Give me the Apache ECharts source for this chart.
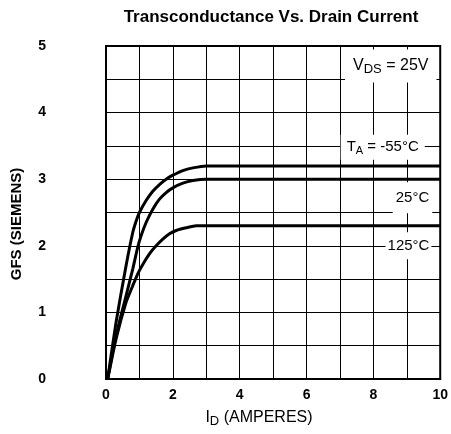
<!DOCTYPE html>
<html>
<head>
<meta charset="utf-8">
<script src="https://cdn.jsdelivr.net/npm/echarts@6/dist/echarts.min.js"></script>
<style>
html, body { margin: 0; padding: 0; background: #fff; }
#chart { width: 451px; height: 434px; }
</style>
</head>
<body>
<div id="chart"></div>
<script>
// values: [ID (A), GFS (S)]
var curveMinus55 = [[0.05, 0], [0.3, 0.85], [0.6, 1.7], [0.8, 2.2], [0.9, 2.37], [1.0, 2.5], [1.2, 2.68], [1.4, 2.82], [1.6, 2.92], [1.8, 3.0], [2.0, 3.06], [2.3, 3.13], [2.6, 3.17], [3.0, 3.2], [3.5, 3.2], [10, 3.2]];
var curve25 = [[0.05, 0], [0.3, 0.65], [0.6, 1.25], [0.8, 1.65], [0.95, 1.98], [1.05, 2.15], [1.2, 2.35], [1.4, 2.55], [1.6, 2.7], [1.8, 2.8], [2.0, 2.87], [2.3, 2.94], [2.6, 2.98], [3.0, 3.0], [3.5, 3.0], [10, 3.0]];
var curve125 = [[0.05, 0], [0.3, 0.6], [0.6, 1.15], [0.8, 1.4], [0.95, 1.58], [1.1, 1.72], [1.3, 1.88], [1.5, 2.0], [1.7, 2.1], [1.9, 2.18], [2.1, 2.23], [2.4, 2.27], [2.7, 2.3], [3.0, 2.3], [3.5, 2.3], [10, 2.3]];

var xTickLabels = [0, 2, 4, 6, 8, 10];
var yTickLabels = [0, 1, 2, 3, 4, 5];

// annotation anchors in data units
var vdsAt = [8.52, 4.7];
var taAt = [8.28, 3.48];
var t25At = [9.17, 2.72];
var t125At = [9.05, 2.0];

var FONT = '"Liberation Sans", Arial, sans-serif';

var chart = echarts.init(document.getElementById('chart'));

function curve(name, data) {
    return {
        name: name,
        type: 'line',
        data: data,
        smooth: 0.2,
        showSymbol: false,
        lineStyle: { color: '#000', width: 3 },
        z: 5
    };
}

chart.setOption({
    animation: false,
    backgroundColor: '#fff',
    grid: {
        left: 106, right: 8, top: 46, bottom: 55,
        show: true, borderColor: '#000', borderWidth: 2
    },
    xAxis: {
        type: 'value', min: 0, max: 10, interval: 1,
        axisLine: { show: true, lineStyle: { color: '#000', width: 2 } },
        axisTick: { show: false },
        splitLine: { show: true, lineStyle: { color: '#000', width: 1 } },
        axisLabel: {
            margin: 9, color: '#000', fontSize: 14, fontWeight: 'bold', fontFamily: FONT,
            formatter: function (v) { return xTickLabels.indexOf(v) >= 0 ? String(v) : ''; }
        }
    },
    yAxis: {
        type: 'value', min: 0, max: 5, interval: 0.5,
        axisLine: { show: true, lineStyle: { color: '#000', width: 2 } },
        axisTick: { show: false },
        splitLine: { show: true, lineStyle: { color: '#000', width: 1 } },
        axisLabel: {
            margin: 60, color: '#000', fontSize: 14, fontWeight: 'bold', fontFamily: FONT,
            formatter: function (v) { return yTickLabels.indexOf(v) >= 0 ? String(v) : ''; }
        }
    },
    series: [
        curve('-55°C', curveMinus55),
        curve('25°C', curve25),
        curve('125°C', curve125)
    ]
});

function px(p) { return chart.convertToPixel({ gridIndex: 0 }, p); }

var boxText = { fontFamily: FONT, fill: '#000', backgroundColor: '#fff', align: 'center', verticalAlign: 'middle' };

var pVds = px(vdsAt), pTa = px(taAt), p25 = px(t25At), p125 = px(t125At);

chart.setOption({
    graphic: [
        {
            type: 'text', x: 271, y: 17, z: 20,
            style: { text: 'Transconductance Vs. Drain Current', fontFamily: FONT, fontSize: 17, fontWeight: 'bold', fill: '#000', align: 'center', verticalAlign: 'middle' }
        },
        {
            type: 'text', x: 17, y: 224, rotation: Math.PI / 2, z: 20,
            style: { text: 'GFS (SIEMENS)', fontFamily: FONT, fontSize: 15, fontWeight: 'bold', fill: '#000', align: 'center', verticalAlign: 'middle' }
        },
        {
            type: 'text', x: 259, y: 418, z: 20,
            style: {
                text: 'I{sub|D} (AMPERES)', fontFamily: FONT, fontSize: 16, fill: '#000', align: 'center', verticalAlign: 'middle',
                rich: { sub: { fontSize: 13, fontFamily: FONT, padding: [7, 0, 0, 0] } }
            }
        },
        {
            type: 'text', x: pVds[0], y: pVds[1], z: 20,
            style: Object.assign({}, boxText, {
                text: 'V{sub|DS} = 25V', fontSize: 16, padding: [7, 8, 7, 8],
                rich: { sub: { fontSize: 13, fontFamily: FONT, padding: [6, 0, 0, 0] } }
            })
        },
        {
            type: 'text', x: pTa[0], y: pTa[1], z: 20,
            style: Object.assign({}, boxText, {
                text: 'T{sub|A} = -55°C', fontSize: 15, padding: [3, 6, 3, 6],
                rich: { sub: { fontSize: 11, fontFamily: FONT, padding: [8, 0, 0, 0] } }
            })
        },
        {
            type: 'text', x: p25[0], y: p25[1], z: 20,
            style: Object.assign({}, boxText, { text: '25°C', fontSize: 15, padding: [8, 3, 8, 3] })
        },
        {
            type: 'text', x: p125[0], y: p125[1], z: 20,
            style: Object.assign({}, boxText, { text: '125°C', fontSize: 15, padding: [6, 2, 6, 2] })
        }
    ]
});
</script>
</body>
</html>
